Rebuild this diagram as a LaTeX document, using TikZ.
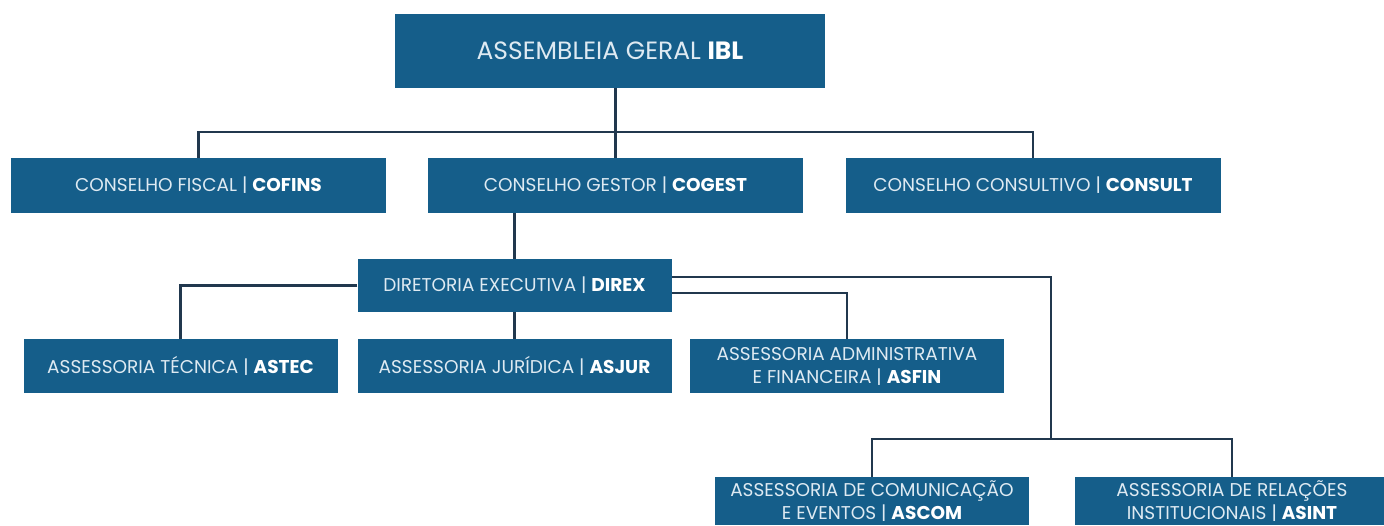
\documentclass[tikz,border=0pt]{standalone}
\usepackage{fontspec}
\setmainfont{Poppins}
\usepackage{xcolor}
\definecolor{iblblue}{RGB}{21,94,138}
\definecolor{iblline}{RGB}{33,56,78}
\definecolor{ibltext}{RGB}{222,234,242}
\newcommand{\sigla}[1]{\textcolor{white}{\textbf{#1}}}

\begin{document}
\begin{tikzpicture}[x=1pt, y=-1pt, font=\fontsize{18.5}{23}\selectfont,
    block/.style={rectangle, fill=iblblue, text=ibltext, align=center, inner sep=0pt, minimum width=375pt, minimum height=55pt},
    sub/.style={block, minimum width=314pt, minimum height=54pt},
    link/.style={draw=iblline, line width=2.2pt}]
    \clip (0,0) rectangle (1384,525);
    \node [block, minimum width=430pt, minimum height=74pt, font=\fontsize{25}{30}\selectfont] (assembly) at (610,51) {ASSEMBLEIA GERAL \sigla{IBL}};
    \node [block] (cofins) at (198.5,185.5) {CONSELHO FISCAL | \sigla{COFINS}};
    \node [block] (cogest) at (615.5,185.5) {CONSELHO GESTOR | \sigla{COGEST}};
    \node [block] (consult) at (1033,185.5) {CONSELHO CONSULTIVO | \sigla{CONSULT}};
    \node [sub, minimum height=53pt] (direx) at (514.5,285.5) {DIRETORIA EXECUTIVA | \sigla{DIREX}};
    \node [sub] (astec) at (180.5,366) {ASSESSORIA TÉCNICA | \sigla{ASTEC}};
    \node [sub] (asjur) at (514.5,366) {ASSESSORIA JURÍDICA | \sigla{ASJUR}};
    \node [sub] (asfin) at (847,366) {ASSESSORIA ADMINISTRATIVA\\E FINANCEIRA | \sigla{ASFIN}};
    \node [sub, minimum height=48pt] (ascom) at (872,501) {ASSESSORIA DE COMUNICAÇÃO\\E EVENTOS | \sigla{ASCOM}};
    \node [sub, minimum height=48pt] (asint) at (1232,501) {ASSESSORIA DE RELAÇÕES\\INSTITUCIONAIS | \sigla{ASINT}};
    \coordinate (bus1) at (616,132);
    \coordinate (bus2) at (1051,439);
    \draw [link] (assembly.south -| cogest.north) -- (cogest.north);
    \draw [link] (cofins.north) |- (bus1) -| (consult.north);
    \draw [link] (cogest.south -| direx.north) -- (direx.north);
    \draw [link] (direx.west) -| (astec.north);
    \draw [link] (direx.south) -- (asjur.north);
    \draw [link] ([yshift=-7.5pt]direx.east) -| (asfin.north);
    \draw [link] ([yshift=8.5pt]direx.east) -| (bus2);
    \draw [link] (ascom.north) |- (bus2) -| (asint.north);
\end{tikzpicture}
\end{document}
